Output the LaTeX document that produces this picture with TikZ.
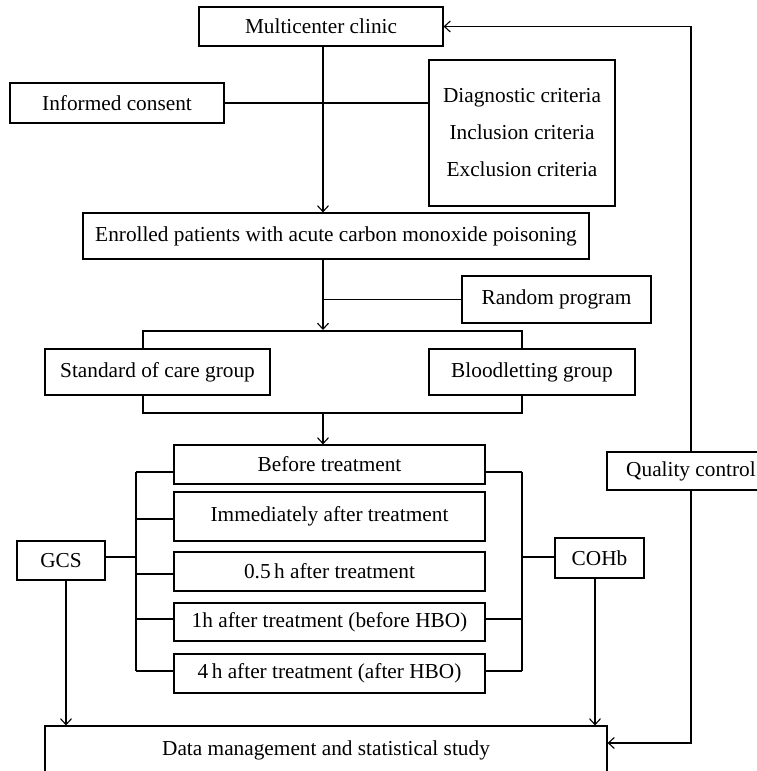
\documentclass[tikz,border=0pt]{standalone}
\usepackage{fontspec}
\setmainfont{Liberation Serif}
\usetikzlibrary{arrows.meta}
\begin{document}
\begin{tikzpicture}[x=1pt,y=-1pt,
  box/.style={draw, line width=1.1pt, inner sep=0pt, font=\fontsize{21.3}{25}\selectfont, align=center},
  conn/.style={line width=1.1pt},
  arr/.style={conn, -{Straight Barb[length=6pt,width=11pt]}}]
\useasboundingbox (0,0) rectangle (756,771);
% boxes
\node[box, minimum width=244, minimum height=39] (mc) at (321,26.5) {Multicenter clinic};
\node[box, minimum width=214, minimum height=40] (ic) at (117,103) {Informed consent};
\node[box, minimum width=186, minimum height=146, font=\fontsize{21.3}{37}\selectfont] (crit) at (522,133) {Diagnostic criteria\\Inclusion criteria\\Exclusion criteria};
\node[box, minimum width=506, minimum height=46] (enr) at (336,236) {Enrolled patients with acute carbon monoxide poisoning};
\node[box, minimum width=189, minimum height=47] (rp) at (556.5,299.5) {Random program};
\node[box, minimum width=225, minimum height=46] (soc) at (157.5,372) {Standard of care group};
\node[box, minimum width=206, minimum height=46] (bl) at (532,372) {Bloodletting group};
\node[box, minimum width=311, minimum height=39] (bt) at (329.5,464.5) {Before treatment};
\node[box, minimum width=311, minimum height=49] (imm) at (329.5,516.5) {Immediately after treatment};
\node[box, minimum width=311, minimum height=39] (h05) at (329.5,571.5) {0.5\,h after treatment};
\node[box, minimum width=311, minimum height=38] (h1) at (329.5,622) {1h after treatment (before HBO)};
\node[box, minimum width=311, minimum height=39] (h4) at (329.5,673.5) {4\,h after treatment (after HBO)};
\node[box, minimum width=88, minimum height=39] (gcs) at (61,560.5) {GCS};
\node[box, minimum width=89, minimum height=40] (cohb) at (599.5,558) {COHb};
\node[box, minimum width=168, minimum height=38] (qc) at (691,471) {Quality control};
\node[box, minimum width=562, minimum height=48] (dm) at (326,750) {Data management and statistical study};
% helper coordinates
\coordinate (a1) at (323,330);
\coordinate (tl) at (143,331);
\coordinate (tr) at (522,331);
\coordinate (bl2) at (143,413);
\coordinate (br2) at (522,413);
\coordinate (m2) at (323,413);
\coordinate (L1) at (136,472);
\coordinate (L2) at (136,519);
\coordinate (L3) at (136,574);
\coordinate (L4) at (136,619);
\coordinate (L5) at (136,671);
\coordinate (Lg) at (136,557);
\coordinate (R1) at (522,472);
\coordinate (R4) at (522,619);
\coordinate (R5) at (522,671);
\coordinate (Rc) at (522,557);
\coordinate (G) at (66,0);
\coordinate (C) at (595,0);
\coordinate (Q) at (0,743);
% connectors
\draw[arr] (a1 |- mc.south) -- (a1 |- enr.north);
\draw[conn] (ic.east) -- (ic.east -| crit.west);
\draw[arr] (a1 |- enr.south) -- (a1);
\draw[conn] (rp.west) -- (rp.west -| a1);
\draw[conn] (tl |- soc.north) -- (tl) -- (tr) -- (tr |- bl.north);
\draw[conn] (bl2 |- soc.south) -- (bl2) -- (br2) -- (br2 |- bl.south);
\draw[arr] (m2) -- (m2 |- bt.north);
\draw[conn] (L1) -- (L5);
\draw[conn] (L1) -- (L1 -| bt.west);
\draw[conn] (L2) -- (L2 -| imm.west);
\draw[conn] (L3) -- (L3 -| h05.west);
\draw[conn] (L4) -- (L4 -| h1.west);
\draw[conn] (L5) -- (L5 -| h4.west);
\draw[conn] (Lg -| gcs.east) -- (Lg);
\draw[conn] (R1) -- (R5);
\draw[conn] (R1) -- (R1 -| bt.east);
\draw[conn] (R4) -- (R4 -| h1.east);
\draw[conn] (R5) -- (R5 -| h4.east);
\draw[conn] (Rc) -- (Rc -| cohb.west);
\draw[arr] (G |- gcs.south) -- (G |- dm.north);
\draw[arr] (C |- cohb.south) -- (C |- dm.north);
\draw[arr] (qc.north) |- (mc.east);
\draw[arr] (qc.south) |- (dm.east |- Q);
\end{tikzpicture}
\end{document}
